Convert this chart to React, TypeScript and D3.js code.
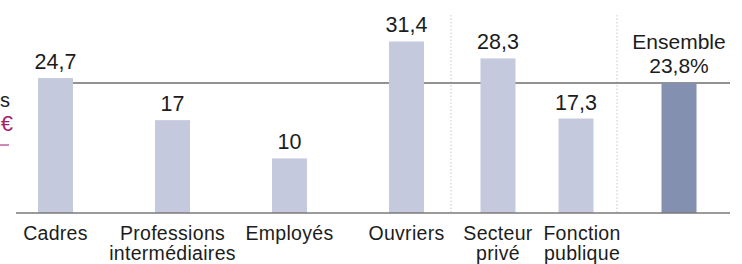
import React from "react";
import * as d3 from "d3";

const groupA = ["Cadres", "Professions intermédiaires", "Employés", "Ouvriers"];
const groupB = ["Secteur privé", "Fonction publique"];
const groupC = ["Ensemble"];
const valuesA = [24.7, 17, 10, 31.4];
const valuesB = [28.3, 17.3];
const valuesC = [23.8];
const labelLinesA = [["Cadres"], ["Professions", "intermédiaires"], ["Employés"], ["Ouvriers"]];
const labelLinesB = [["Secteur", "privé"], ["Fonction", "publique"]];
const ensembleTitle = "Ensemble";
const reference = 23.8;

const fmt = (v: number) => String(v).replace(".", ",");

export default function App() {
  const W = 742, H = 264;
  const y = d3.scaleLinear().domain([0, reference]).range([213, 83]);
  const barW = 35;
  const xA = d3.scaleBand<string>().domain(groupA).range([-3, 465]);
  const xB = d3.scaleBand<string>().domain(groupB).range([458, 614]);
  const xC = d3.scaleBand<string>().domain(groupC).range([630, 728]);
  const light = "#c4c9dd";
  const dark = "#8390b0";
  const font = "'Liberation Sans', Arial, sans-serif";
  const ink = "#1c1c1c";

  const bars: { name: string; v: number; cx: number; fill: string; lines: string[] }[] = [];
  groupA.forEach((n, i) => bars.push({ name: n, v: valuesA[i], cx: xA(n)! + xA.bandwidth() / 2, fill: light, lines: labelLinesA[i] }));
  groupB.forEach((n, i) => bars.push({ name: n, v: valuesB[i], cx: xB(n)! + xB.bandwidth() / 2 + 1, fill: light, lines: labelLinesB[i] }));
  groupC.forEach((n, i) => bars.push({ name: n, v: valuesC[i], cx: xC(n)! + xC.bandwidth() / 2, fill: dark, lines: [] }));

  const ensembleCx = xC(groupC[0])! + xC.bandwidth() / 2;
  const y0 = y(0);

  return (
    <svg width={W} height={H} style={{ position: "absolute", left: 0, top: 0, background: "#fff" }} fontFamily={font}>
      {/* separators */}
      <line x1={451} x2={451} y1={15} y2={y0} stroke="#c8c8c8" strokeDasharray="1.5,2" />
      <line x1={617} x2={617} y1={15} y2={y0} stroke="#c8c8c8" strokeDasharray="1.5,2" />
      {/* reference line */}
      <line x1={38} x2={730} y1={y(reference)} y2={y(reference)} stroke="#6e6e6e" strokeWidth={1.5} />
      {/* bars */}
      {bars.map((b) => (
        <rect key={b.name} x={b.cx - barW / 2} y={y(b.v)} width={barW} height={y0 - y(b.v)} fill={b.fill} />
      ))}
      {/* axis */}
      <line x1={16} x2={730} y1={y0} y2={y0} stroke="#7a7a7a" strokeWidth={1.3} />
      {/* value labels */}
      {bars.filter((b) => b.name !== "Ensemble").map((b) => (
        <text key={"v" + b.name} x={b.cx} y={y(b.v) - 9} textAnchor="middle" fontSize={21.5} fill={ink}>
          {fmt(b.v)}
        </text>
      ))}
      <text x={ensembleCx} y={49} textAnchor="middle" fontSize={21} fill={ink}>{ensembleTitle}</text>
      <text x={ensembleCx} y={73} textAnchor="middle" fontSize={21} fill={ink}>{fmt(valuesC[0]) + "%"}</text>
      {/* category labels */}
      {bars.map((b) =>
        b.lines.map((l, j) => (
          <text key={b.name + j} x={b.cx + (b.name === "Fonction publique" ? 6 : 0)} y={240 + j * 20} textAnchor="middle" fontSize={19.5} letterSpacing={0.3} fill={ink}>
            {l}
          </text>
        ))
      )}
      {/* left annotation (partially outside the reference crop) */}
      <text x={0} y={107} textAnchor="start" fontSize={20} fill={ink}>s</text>
      <text x={13} y={131} textAnchor="end" fontSize={22} fill="#a3216f">€</text>
      <line x1={0} x2={9} y1={145} y2={145} stroke="#c060a0" strokeWidth={1.5} />
    </svg>
  );
}
